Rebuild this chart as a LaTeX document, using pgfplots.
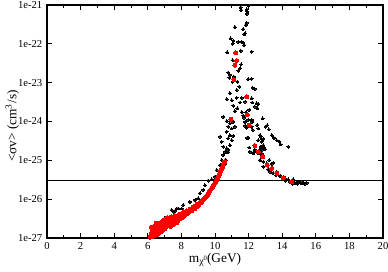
\documentclass[border=0pt]{standalone}
\usepackage{pgfplots}
\pgfplotsset{compat=1.18}
\usepackage{fontspec}
\setmainfont{Liberation Serif}
\begin{document}
\begin{tikzpicture}
\begin{axis}[
  scale only axis,
  width=252pt, height=174.75pt,
  xmin=0, xmax=20,
  ymode=log, log basis y=10,
  ymin=1e-27, ymax=1e-21,
  xtick={0,2,...,20},
  xticklabels={0,2,4,6,8,10,12,14,16,18,20},
  minor x tick num=1,
  ytickten={-27,...,-21},
  yticklabels={1e-27,1e-26,1e-25,1e-24,1e-23,1e-22,1e-21},
  tick align=inside,
  tick pos=both,
  major tick length=4pt, minor tick length=2.2pt,
  tick style={black, line width=0.6pt},
  axis line style={line width=0.8pt},
  tick label style={font=\fontsize{8}{9}\selectfont},
  xlabel={m\raisebox{-0.45ex}{\fontsize{7.5}{7.5}\selectfont χ\raisebox{0.9ex}{\fontsize{5}{5}\selectfont 0}}(GeV)},
  ylabel={<σv> (cm\textsuperscript{3}/s)},
  label style={font=\fontsize{9.5}{11}\selectfont},
  every axis x label/.style={at={(axis description cs:0.5,-0.103)}, anchor=base},
  every axis y label/.style={at={(axis description cs:-0.103,0.48)}, rotate=90, anchor=center},
]
\addplot[black, line width=1pt] coordinates {(0,3e-26) (20,3e-26)};
% black points
\addplot[black, only marks, mark=*, mark size=1.1pt, mark options={draw=black, fill=black, line width=0pt}] table {
x y
7.42 5.25e-27
7.52 4.79e-27
7.62 5.01e-27
7.72 5.75e-27
7.82 5.75e-27
8.02 5.75e-27
8.11 7.08e-27
8.51 8.51e-27
8.81 9.55e-27
9.00 1.05e-26
9.11 1.41e-26
9.30 1.74e-26
9.40 2.29e-26
9.60 3.02e-26
9.80 3.24e-26
10.00 3.80e-26
10.10 5.62e-26
10.30 7.59e-26
10.40 1.02e-25
10.49 1.38e-25
10.70 1.66e-25
10.79 1.86e-25
7.02 3.24e-27
9.30 1.05e-26
9.60 1.51e-26
9.85 2.09e-26
10.05 3.02e-26
10.25 4.17e-26
10.50 6.31e-26
10.60 7.94e-26
10.65 1.0e-25
11.98 9.55e-22
11.53 8.71e-22
11.55 7.41e-22
11.89 7.76e-22
11.92 6.76e-22
11.89 5.89e-22
11.89 3.47e-22
11.83 3.02e-22
11.19 2.69e-22
11.68 2.40e-22
11.79 1.86e-22
11.73 1.74e-22
10.93 1.38e-22
11.09 1.20e-22
11.39 1.12e-22
11.59 1.12e-22
11.68 1.07e-22
11.05 1.0e-22
11.73 9.33e-23
10.73 6.03e-23
11.53 6.61e-23
12.18 6.31e-23
11.05 3.80e-23
11.55 2.95e-23
11.49 2.34e-23
11.39 2.04e-23
10.79 1.82e-23
10.89 1.58e-23
11.13 1.41e-23
11.98 1.23e-23
12.18 1.26e-23
10.85 1.35e-23
11.05 1.05e-23
11.33 1.05e-23
11.45 7.94e-24
11.29 6.46e-24
12.24 7.41e-24
12.36 6.92e-24
10.89 5.37e-24
10.70 3.80e-24
10.99 3.55e-24
11.29 4.07e-24
11.49 3.09e-24
11.59 4.07e-24
12.18 3.98e-24
11.79 3.24e-24
12.22 3.09e-24
12.58 2.82e-24
12.38 2.40e-24
12.52 2.19e-24
12.48 2.95e-24
11.09 2.57e-24
11.33 2.19e-24
11.19 1.86e-24
11.59 1.74e-24
11.68 1.41e-24
12.04 2.0e-24
11.85 1.74e-24
11.73 1.26e-24
11.98 1.10e-24
12.18 1.10e-24
12.22 9.77e-25
12.84 1.20e-24
13.10 7.94e-25
13.20 6.31e-25
10.49 1.32e-24
10.70 1.02e-24
10.89 8.91e-25
11.09 9.77e-25
10.79 7.41e-25
10.99 6.61e-25
11.19 7.41e-25
11.79 9.77e-25
11.89 6.92e-25
12.18 7.41e-25
12.52 8.13e-25
12.58 6.61e-25
11.79 7.76e-25
13.02 7.41e-25
12.24 6.03e-25
10.70 5.50e-25
10.89 4.47e-25
11.09 4.27e-25
10.79 3.72e-25
10.99 3.31e-25
10.30 4.07e-25
11.98 3.80e-25
12.68 4.47e-25
12.78 3.55e-25
10.40 3.02e-25
10.49 2.24e-25
10.70 2.04e-25
10.89 2.45e-25
10.60 1.66e-25
10.79 1.62e-25
12.04 2.14e-25
12.84 2.14e-25
12.32 1.62e-25
12.72 4.07e-25
11.92 3.80e-25
12.58 3.31e-25
12.88 3.55e-25
13.38 4.47e-25
13.51 3.80e-25
13.67 3.31e-25
13.83 3.02e-25
13.91 2.57e-25
14.36 2.24e-25
12.72 2.24e-25
12.98 1.95e-25
12.78 1.86e-25
12.08 1.66e-25
12.28 1.51e-25
12.78 1.51e-25
12.78 3.02e-25
12.88 2.45e-25
12.72 2.04e-25
12.38 1.86e-25
12.58 1.51e-25
12.78 1.38e-25
12.68 1.02e-25
12.88 9.12e-26
13.08 8.32e-26
13.23 1.02e-25
13.38 8.13e-26
13.47 8.71e-26
12.88 6.92e-26
13.17 5.89e-26
13.27 5.13e-26
13.47 4.68e-26
13.67 5.13e-26
13.63 4.17e-26
13.87 3.98e-26
14.03 3.24e-26
14.17 3.47e-26
14.36 3.24e-26
14.46 2.82e-26
14.66 3.24e-26
14.76 2.63e-26
14.96 2.82e-26
15.10 2.63e-26
15.26 2.57e-26
15.46 2.63e-26
14.90 2.51e-26
15.20 2.75e-26
15.35 2.51e-26
14.60 2.51e-26
14.20 3.02e-26
};
% red points
\addplot[red, only marks, mark=*, mark size=1.5pt, mark options={draw=red, fill=red, line width=0pt}] table {
x y
6.15 1.05e-27
6.20 1.26e-27
6.25 1.51e-27
6.30 1.12e-27
6.35 1.78e-27
6.40 1.32e-27
6.45 2.0e-27
6.50 1.58e-27
6.55 1.20e-27
6.60 2.24e-27
6.65 1.78e-27
6.70 1.41e-27
6.75 2.51e-27
6.80 2.0e-27
6.85 1.51e-27
6.90 2.82e-27
6.95 2.24e-27
7.00 1.74e-27
7.05 3.16e-27
7.10 2.51e-27
7.15 2.0e-27
7.20 3.31e-27
7.30 2.63e-27
7.35 2.0e-27
7.40 3.55e-27
7.50 2.82e-27
7.55 2.24e-27
7.60 3.80e-27
7.70 3.02e-27
7.75 2.51e-27
7.85 3.98e-27
7.90 3.16e-27
8.00 4.17e-27
8.05 3.31e-27
8.15 4.68e-27
8.20 3.80e-27
8.30 5.01e-27
8.40 4.37e-27
8.50 5.50e-27
8.60 5.01e-27
8.70 6.31e-27
8.80 5.75e-27
8.90 7.08e-27
9.00 6.61e-27
9.10 7.94e-27
9.20 8.32e-27
9.30 9.55e-27
9.40 1.05e-26
9.50 1.20e-26
9.60 1.38e-26
9.70 1.66e-26
9.80 1.91e-26
9.90 2.24e-26
10.00 2.63e-26
10.10 3.16e-26
10.20 3.80e-26
10.30 4.79e-26
10.40 6.03e-26
10.50 7.59e-26
10.58 9.12e-26
6.22 1.91e-27
6.50 2.40e-27
6.90 2.09e-27
7.25 2.40e-27
6.60 1.32e-27
6.95 1.66e-27
7.45 2.40e-27
8.10 3.55e-27
8.65 5.62e-27
6.18 1.15e-27
6.28 1.62e-27
6.38 1.15e-27
6.42 1.70e-27
6.52 2.0e-27
6.62 1.55e-27
6.72 2.2e-27
6.78 1.7e-27
6.88 2.4e-27
6.98 2.6e-27
7.08 2.2e-27
7.12 2.9e-27
7.22 2.1e-27
7.28 3.0e-27
7.38 2.4e-27
7.48 3.3e-27
7.58 2.6e-27
7.68 3.5e-27
7.80 2.9e-27
7.95 3.6e-27
8.10 4.1e-27
8.25 4.4e-27
8.35 4.8e-27
8.45 5.1e-27
8.55 5.3e-27
8.75 6.0e-27
8.85 6.6e-27
8.95 7.5e-27
9.05 7.2e-27
9.15 8.5e-27
9.25 9.0e-27
9.35 1.0e-26
9.45 1.12e-26
9.55 1.28e-26
9.65 1.5e-26
9.75 1.78e-26
9.85 2.05e-26
9.95 2.4e-26
10.05 2.85e-26
10.15 3.45e-26
10.25 4.3e-26
10.35 5.4e-26
10.45 6.8e-26
11.23 5.89e-23
11.29 3.72e-23
11.19 2.82e-23
11.13 1.20e-23
11.89 4.37e-24
11.92 1.48e-24
10.95 1.15e-24
12.04 8.13e-25
12.38 2.40e-25
12.58 1.66e-25
12.84 1.23e-25
13.11 7.59e-26
13.38 6.17e-26
13.67 4.68e-26
14.07 3.55e-26
14.57 2.82e-26
};
\end{axis}
\pgfresetboundingbox
\path ([shift={(-35.25pt,-24.75pt)}]current axis.south west) rectangle ([shift={(3.75pt,3.75pt)}]current axis.north east);
\end{tikzpicture}
\end{document}
